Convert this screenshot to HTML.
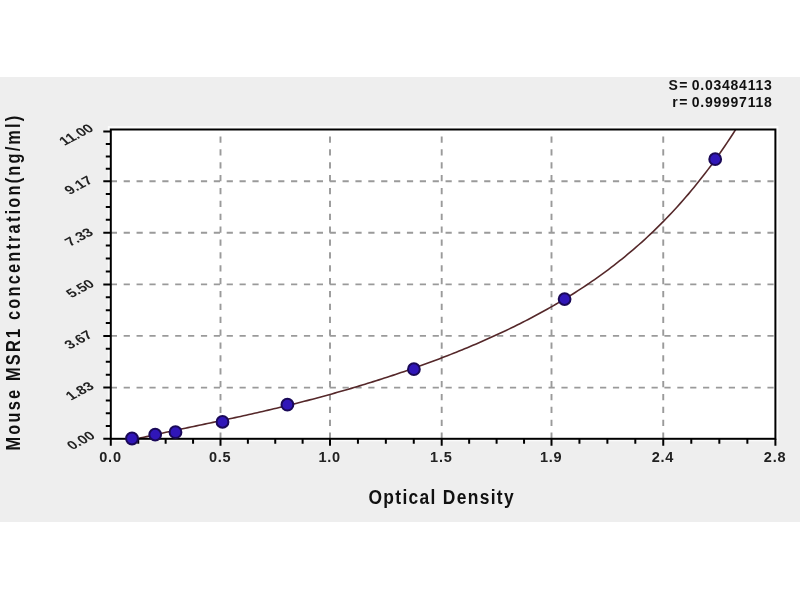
<!DOCTYPE html><html><head><meta charset="utf-8"><style>html,body{margin:0;padding:0;background:#fff;width:800px;height:600px;overflow:hidden}svg{display:block}</style></head><body>
<svg width="800" height="600" viewBox="0 0 800 600">
<rect x="0" y="0" width="800" height="600" fill="#ffffff"/>
<rect x="0" y="77" width="800" height="445" fill="#eeeeee"/>
<rect x="107.8" y="126.0" width="670.6" height="315.3" fill="#fbfbfb"/>
<rect x="110.8" y="129.5" width="664.6" height="309.3" fill="#ffffff"/>
<path d="M220.50 438.80V129.50 M330.00 438.80V129.50 M441.70 438.80V129.50 M551.50 438.80V129.50 M663.25 438.80V129.50 M110.80 181.20H775.40 M110.80 232.70H775.40 M110.80 284.40H775.40 M110.80 335.90H775.40 M110.80 387.60H775.40" stroke="#9a9a9a" stroke-width="1.9" stroke-dasharray="6.2 6.675" fill="none"/>
<path d="M103.30 131.60H110.80 M105.80 144.00H110.80 M105.80 156.40H110.80 M105.80 168.80H110.80 M103.30 181.20H110.80 M105.80 194.07H110.80 M105.80 206.95H110.80 M105.80 219.82H110.80 M103.30 232.70H110.80 M105.80 245.62H110.80 M105.80 258.55H110.80 M105.80 271.47H110.80 M103.30 284.40H110.80 M105.80 297.27H110.80 M105.80 310.15H110.80 M105.80 323.02H110.80 M103.30 335.90H110.80 M105.80 348.82H110.80 M105.80 361.75H110.80 M105.80 374.68H110.80 M103.30 387.60H110.80 M105.80 400.40H110.80 M105.80 413.20H110.80 M105.80 426.00H110.80 M103.30 438.80H110.80 M110.80 438.80V445.80 M138.22 438.80V443.80 M165.65 438.80V443.80 M193.07 438.80V443.80 M220.50 438.80V445.80 M247.88 438.80V443.80 M275.25 438.80V443.80 M302.62 438.80V443.80 M330.00 438.80V445.80 M357.93 438.80V443.80 M385.85 438.80V443.80 M413.77 438.80V443.80 M441.70 438.80V445.80 M469.15 438.80V443.80 M496.60 438.80V443.80 M524.05 438.80V443.80 M551.50 438.80V445.80 M579.44 438.80V443.80 M607.38 438.80V443.80 M635.31 438.80V443.80 M663.25 438.80V445.80 M691.29 438.80V443.80 M719.33 438.80V443.80 M747.36 438.80V443.80 M775.40 438.80V445.80" stroke="#000" stroke-width="2" fill="none"/>
<path d="M130.00 440.49 L132.77 439.83 L135.53 439.17 L138.30 438.52 L141.06 437.88 L143.83 437.24 L146.59 436.61 L149.36 435.99 L152.12 435.37 L154.89 434.75 L157.65 434.14 L160.42 433.54 L163.18 432.94 L165.95 432.34 L168.71 431.74 L171.48 431.15 L174.24 430.56 L177.01 429.97 L179.77 429.38 L182.54 428.80 L185.30 428.21 L188.07 427.63 L190.84 427.05 L193.60 426.47 L196.37 425.89 L199.13 425.30 L201.90 424.72 L204.66 424.14 L207.43 423.56 L210.19 422.97 L212.96 422.39 L215.72 421.80 L218.49 421.21 L221.25 420.62 L224.02 420.03 L226.78 419.44 L229.55 418.84 L232.31 418.24 L235.08 417.64 L237.84 417.03 L240.61 416.42 L243.37 415.81 L246.14 415.20 L248.91 414.58 L251.67 413.96 L254.44 413.33 L257.20 412.71 L259.97 412.07 L262.73 411.44 L265.50 410.79 L268.26 410.15 L271.03 409.50 L273.79 408.84 L276.56 408.19 L279.32 407.52 L282.09 406.85 L284.85 406.18 L287.62 405.50 L290.38 404.82 L293.15 404.13 L295.91 403.43 L298.68 402.74 L301.45 402.03 L304.21 401.32 L306.98 400.61 L309.74 399.88 L312.51 399.16 L315.27 398.43 L318.04 397.69 L320.80 396.94 L323.57 396.19 L326.33 395.44 L329.10 394.68 L331.86 393.91 L334.63 393.13 L337.39 392.35 L340.16 391.57 L342.92 390.78 L345.69 389.98 L348.45 389.17 L351.22 388.36 L353.98 387.54 L356.75 386.72 L359.52 385.89 L362.28 385.05 L365.05 384.21 L367.81 383.35 L370.58 382.50 L373.34 381.63 L376.11 380.76 L378.87 379.88 L381.64 379.00 L384.40 378.10 L387.17 377.20 L389.93 376.30 L392.70 375.38 L395.46 374.46 L398.23 373.53 L400.99 372.60 L403.76 371.65 L406.52 370.70 L409.29 369.74 L412.05 368.78 L414.82 367.80 L417.59 366.82 L420.35 365.83 L423.12 364.83 L425.88 363.82 L428.65 362.81 L431.41 361.78 L434.18 360.75 L436.94 359.71 L439.71 358.66 L442.47 357.60 L445.24 356.53 L448.00 355.46 L450.77 354.37 L453.53 353.27 L456.30 352.17 L459.06 351.05 L461.83 349.93 L464.59 348.79 L467.36 347.65 L470.12 346.49 L472.89 345.32 L475.66 344.15 L478.42 342.96 L481.19 341.76 L483.95 340.55 L486.72 339.33 L489.48 338.09 L492.25 336.85 L495.01 335.59 L497.78 334.32 L500.54 333.03 L503.31 331.74 L506.07 330.43 L508.84 329.10 L511.60 327.77 L514.37 326.41 L517.13 325.05 L519.90 323.67 L522.66 322.27 L525.43 320.86 L528.20 319.44 L530.96 317.99 L533.73 316.54 L536.49 315.06 L539.26 313.57 L542.02 312.06 L544.79 310.53 L547.55 308.99 L550.32 307.42 L553.08 305.84 L555.85 304.24 L558.61 302.62 L561.38 300.98 L564.14 299.32 L566.91 297.63 L569.67 295.93 L572.44 294.20 L575.20 292.45 L577.97 290.68 L580.73 288.89 L583.50 287.07 L586.27 285.22 L589.03 283.35 L591.80 281.46 L594.56 279.54 L597.33 277.59 L600.09 275.62 L602.86 273.61 L605.62 271.58 L608.39 269.52 L611.15 267.43 L613.92 265.31 L616.68 263.16 L619.45 260.98 L622.21 258.76 L624.98 256.52 L627.74 254.23 L630.51 251.92 L633.27 249.56 L636.04 247.18 L638.80 244.75 L641.57 242.29 L644.34 239.79 L647.10 237.25 L649.87 234.67 L652.63 232.05 L655.40 229.38 L658.16 226.68 L660.93 223.93 L663.69 221.14 L666.46 218.30 L669.22 215.42 L671.99 212.48 L674.75 209.51 L677.52 206.48 L680.28 203.40 L683.05 200.27 L685.81 197.09 L688.58 193.86 L691.34 190.57 L694.11 187.22 L696.87 183.83 L699.64 180.37 L702.41 176.85 L705.17 173.28 L707.94 169.64 L710.70 165.95 L713.47 162.19 L716.23 158.36 L719.00 154.47 L721.76 150.52 L724.53 146.49 L727.29 142.40 L730.06 138.24 L732.82 134.00 L735.59 129.69" stroke="#55282a" stroke-width="1.6" fill="none"/>
<rect x="110.8" y="129.5" width="664.6" height="309.3" fill="none" stroke="#000" stroke-width="2"/>
<circle cx="132" cy="438.5" r="5.9" fill="#3016b8" stroke="#1a0958" stroke-width="2"/>
<circle cx="155.2" cy="434.6" r="5.9" fill="#3016b8" stroke="#1a0958" stroke-width="2"/>
<circle cx="175.5" cy="432.2" r="5.9" fill="#3016b8" stroke="#1a0958" stroke-width="2"/>
<circle cx="222.5" cy="421.9" r="5.9" fill="#3016b8" stroke="#1a0958" stroke-width="2"/>
<circle cx="287.4" cy="404.7" r="5.9" fill="#3016b8" stroke="#1a0958" stroke-width="2"/>
<circle cx="413.9" cy="369.2" r="5.9" fill="#3016b8" stroke="#1a0958" stroke-width="2"/>
<circle cx="564.6" cy="299.1" r="5.9" fill="#3016b8" stroke="#1a0958" stroke-width="2"/>
<circle cx="715.2" cy="159.2" r="5.9" fill="#3016b8" stroke="#1a0958" stroke-width="2"/>
<text y="89.5" font-family="Liberation Sans, Arial, sans-serif" font-weight="bold" font-size="14" fill="#111"><tspan x="668.6">S</tspan><tspan x="679.2">=</tspan><tspan x="691.8" letter-spacing="0.75">0.03484113</tspan></text>
<text y="106.5" font-family="Liberation Sans, Arial, sans-serif" font-weight="bold" font-size="14" fill="#111"><tspan x="672.3">r</tspan><tspan x="679.2">=</tspan><tspan x="691.8" letter-spacing="0.75">0.99997118</tspan></text>
<text transform="translate(368.5,504.3) scale(0.87,1)" x="0" y="0" font-family="Liberation Sans, Arial, sans-serif" font-weight="bold" font-size="20" letter-spacing="1.52" fill="#111">Optical Density</text>
<text transform="translate(19.6,450.5) rotate(-90) scale(0.82,1)" x="0" y="0" font-family="Liberation Sans, Arial, sans-serif" font-weight="bold" font-size="20" letter-spacing="2.66" fill="#111">Mouse MSR1 concentration(ng/ml)</text>
<text x="110.50" y="461.8" font-family="Liberation Sans, Arial, sans-serif" font-weight="bold" font-size="14.5" letter-spacing="0.8" text-anchor="middle" fill="#222">0.0</text>
<text x="220.20" y="461.8" font-family="Liberation Sans, Arial, sans-serif" font-weight="bold" font-size="14.5" letter-spacing="0.8" text-anchor="middle" fill="#222">0.5</text>
<text x="329.70" y="461.8" font-family="Liberation Sans, Arial, sans-serif" font-weight="bold" font-size="14.5" letter-spacing="0.8" text-anchor="middle" fill="#222">1.0</text>
<text x="441.40" y="461.8" font-family="Liberation Sans, Arial, sans-serif" font-weight="bold" font-size="14.5" letter-spacing="0.8" text-anchor="middle" fill="#222">1.5</text>
<text x="551.20" y="461.8" font-family="Liberation Sans, Arial, sans-serif" font-weight="bold" font-size="14.5" letter-spacing="0.8" text-anchor="middle" fill="#222">1.9</text>
<text x="662.95" y="461.8" font-family="Liberation Sans, Arial, sans-serif" font-weight="bold" font-size="14.5" letter-spacing="0.8" text-anchor="middle" fill="#222">2.4</text>
<text x="775.10" y="461.8" font-family="Liberation Sans, Arial, sans-serif" font-weight="bold" font-size="14.5" letter-spacing="0.8" text-anchor="middle" fill="#222">2.8</text>
<text transform="matrix(0.8829,-0.4695,0.7071,0.7071,76.00,134.50)" x="0.00" y="5.01" font-family="Liberation Sans, Arial, sans-serif" font-weight="bold" font-size="14.0" letter-spacing="0.0" text-anchor="middle" fill="#222">11.00</text>
<text transform="matrix(0.8829,-0.4695,0.7071,0.7071,78.25,185.00)" x="0.00" y="5.01" font-family="Liberation Sans, Arial, sans-serif" font-weight="bold" font-size="14.0" letter-spacing="0.0" text-anchor="middle" fill="#222">9.17</text>
<text transform="matrix(0.8829,-0.4695,0.7071,0.7071,78.75,236.85)" x="0.00" y="5.01" font-family="Liberation Sans, Arial, sans-serif" font-weight="bold" font-size="14.0" letter-spacing="0.0" text-anchor="middle" fill="#222">7.33</text>
<text transform="matrix(0.8829,-0.4695,0.7071,0.7071,79.85,288.35)" x="0.00" y="5.01" font-family="Liberation Sans, Arial, sans-serif" font-weight="bold" font-size="14.0" letter-spacing="0.0" text-anchor="middle" fill="#222">5.50</text>
<text transform="matrix(0.8829,-0.4695,0.7071,0.7071,78.15,339.50)" x="0.00" y="5.01" font-family="Liberation Sans, Arial, sans-serif" font-weight="bold" font-size="14.0" letter-spacing="0.0" text-anchor="middle" fill="#222">3.67</text>
<text transform="matrix(0.8829,-0.4695,0.7071,0.7071,79.50,390.75)" x="0.00" y="5.01" font-family="Liberation Sans, Arial, sans-serif" font-weight="bold" font-size="14.0" letter-spacing="0.0" text-anchor="middle" fill="#222">1.83</text>
<text transform="matrix(0.8829,-0.4695,0.7071,0.7071,80.60,440.25)" x="0.00" y="5.01" font-family="Liberation Sans, Arial, sans-serif" font-weight="bold" font-size="14.0" letter-spacing="0.0" text-anchor="middle" fill="#222">0.00</text>
</svg></body></html>
